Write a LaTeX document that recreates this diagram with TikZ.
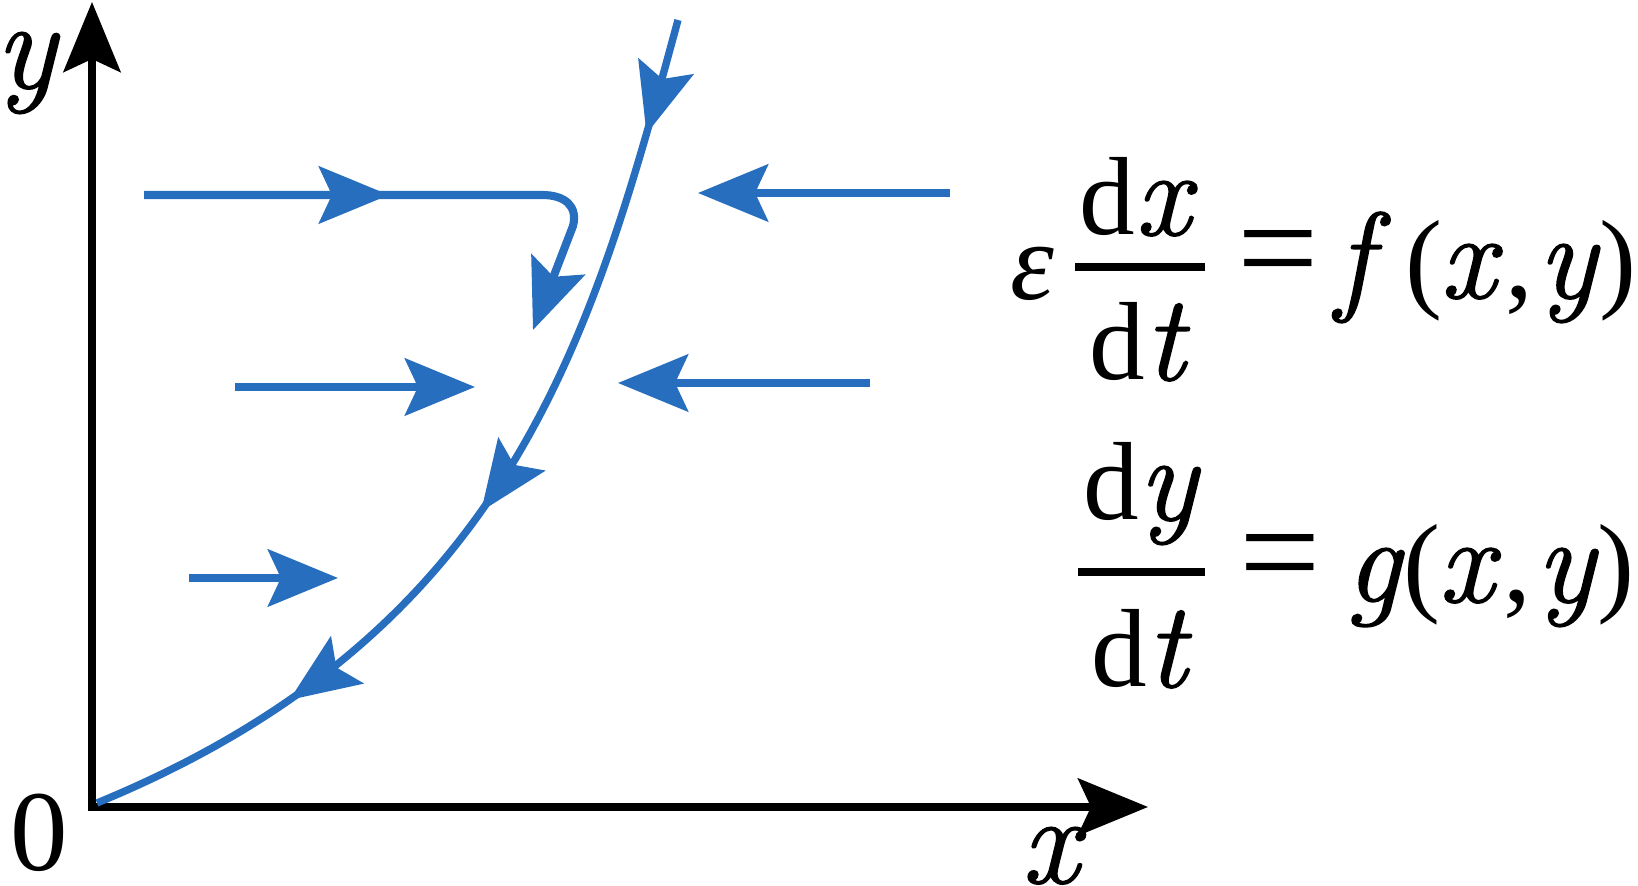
\documentclass[tikz,border=0pt]{standalone}
\usepackage{fontspec}
\setmainfont{Liberation Serif}
\newfontfamily\lmfam{Latin Modern Roman}[FakeBold=1.2,Scale=1.1]
\newcommand{\vi}[1]{{\lmfam\itshape #1}}
\usetikzlibrary{arrows.meta,decorations.markings}
\definecolor{flowblue}{RGB}{40,110,190}
\tikzset{
  bigtip/.tip={Stealth[length=7mm,width=5.7mm,inset=1.3mm]},
  axis/.style={line width=2pt, black, line join=miter},
  flow/.style={line width=2.3pt, flowblue},
  curve/.style={line width=2.1pt, flowblue},
  flowarrow/.style={flow, -{bigtip}},
  lbl/.style={inner sep=0pt, font=\fontsize{32.7pt}{38pt}\selectfont},
  eqn/.style={inner sep=0pt, font=\fontsize{31.6pt}{38pt}\selectfont},
  fracbar/.style={line width=2pt, black},
}
\begin{document}
\begin{tikzpicture}[x=0.01cm,y=-0.01cm]
\path[use as bounding box] (0,0) rectangle (1638,886);

% axes
\coordinate (ytip) at (92,2);
\coordinate (orig) at (92,807);
\coordinate (xtip) at (1148,807);
\draw[axis, {bigtip}-{bigtip}] (ytip) -- (orig) -- (xtip);

\node[lbl, anchor=base west] (ylabel) at (-5,88) {\vi{y}};
\node[lbl, anchor=base west] (zero) at (10,871) {0};
\node[lbl, anchor=base west] (xlabel) at (1021,883) {\vi{x}};

% main trajectory
\coordinate (ctop) at (678,20);
\coordinate (cend) at (97,803);
\draw[curve, postaction={decorate}, decoration={markings,
    mark=at position 1.18cm with {\arrow{bigtip}},
    mark=at position 5.32cm with {\arrow{bigtip}},
    mark=at position 8.02cm with {\arrow{bigtip}}}]
  (ctop) .. controls (592,337) and (512,632) .. (cend);

% row 1
\coordinate (r1a) at (144,195);
\coordinate (r1m) at (389,195);
\coordinate (r1b) at (542,195);
\coordinate (r1c) at (573,226);
\coordinate (r1t) at (533,330);
\draw[flowarrow] (r1a) -- (r1b) .. controls (565,195) and (578,206) .. (r1c) -- (r1t);
\draw[flowarrow] (r1a) -- (r1m);
\coordinate (r1r) at (950,193);
\coordinate (r1rt) at (698,193);
\draw[flowarrow] (r1r) -- (r1rt);

% row 2
\coordinate (r2a) at (235,387);
\coordinate (r2t) at (475,387);
\draw[flowarrow] (r2a) -- (r2t);
\coordinate (r2r) at (870,383);
\coordinate (r2rt) at (618,383);
\draw[flowarrow] (r2r) -- (r2rt);

% row 3
\coordinate (r3a) at (189,578);
\coordinate (r3t) at (338,578);
\draw[flowarrow] (r3a) -- (r3t);

% equation 1
\node[eqn, anchor=base west] (eps) at (1010,300) {\textit{ε}};
\node[eqn, anchor=base] (num1) at (1135,235) {d\vi{x}};
\node[eqn, anchor=base] (den1) at (1137,380) {d\vi{t}};
\coordinate (b1l) at (1075,267);
\coordinate (b1r) at (1205,267);
\draw[fracbar] (b1l) -- (b1r);
\node[eqn, anchor=base] (eq1) at (1278,297) {\scalebox{1.3}{=}};
\node[eqn, anchor=base west] (rhs1) at (1335,298)
  {\vi{f}\hspace{0.33cm}(\hspace{-0.02cm}\vi{x}\hspace{0.1cm},\hspace{0.05cm}\vi{y}\hspace{0.03cm})};

% equation 2
\node[eqn, anchor=base] (num2) at (1140,520) {d\vi{y}};
\node[eqn, anchor=base] (den2) at (1139,687) {d\vi{t}};
\coordinate (b2l) at (1078,572);
\coordinate (b2r) at (1205,572);
\draw[fracbar] (b2l) -- (b2r);
\node[eqn, anchor=base] (eq2) at (1280,601) {\scalebox{1.3}{=}};
\node[eqn, anchor=base west] (rhs2) at (1345,602)
  {\vi{g}\hspace{0.03cm}(\hspace{-0.02cm}\vi{x}\hspace{0.1cm},\hspace{0.05cm}\vi{y}\hspace{0.03cm})};
\end{tikzpicture}
\end{document}
